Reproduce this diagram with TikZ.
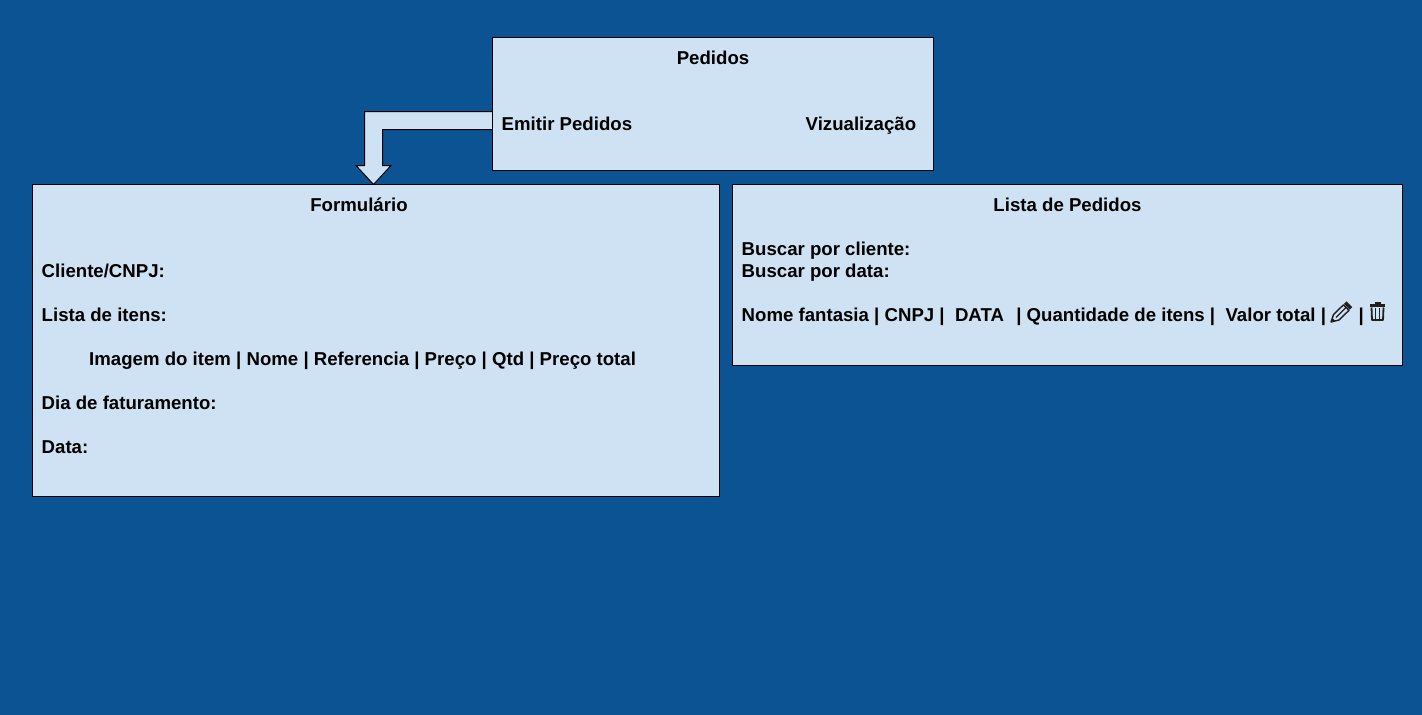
\documentclass[tikz,border=0pt]{standalone}
\usepackage{fontspec}
\usetikzlibrary{backgrounds}
\setmainfont{Liberation Sans}
\definecolor{bgblue}{HTML}{0C5394}
\definecolor{boxblue}{HTML}{CFE2F3}
\definecolor{inkdark}{HTML}{1F1F1F}
\tikzset{
  panel/.style={draw=black,fill=boxblue,line width=1pt,inner sep=0pt,outer sep=0pt,anchor=north west},
  lbl/.style={font=\fontsize{18.63}{18.63}\selectfont\bfseries,text=black,inner sep=0pt,anchor=base west},
  ttl/.style={font=\fontsize{18.63}{18.63}\selectfont\bfseries,text=black,inner sep=0pt,anchor=base},
  icon/.style={draw=inkdark,line width=1.5pt,line join=round}
}
\begin{document}
\begin{tikzpicture}[x=1pt,y=-1pt]
\useasboundingbox (0,0) rectangle (1422,715);
\node[panel,minimum width=441pt,minimum height=133pt] (pedidos) at (492.5,37.5) {};
\node[panel,minimum width=687pt,minimum height=312pt] (formulario) at (32.5,184.5) {};
\node[panel,minimum width=670pt,minimum height=181pt] (lista) at (732.5,184.5) {};
\coordinate (tip) at (373.5,184.5);
\begin{pgfonlayer}{background}
\fill[bgblue] (0,0) rectangle (1422,715);
% bent arrow
\draw[draw=black,fill=boxblue,line width=1pt,line join=miter]
  (pedidos.west |- 0,111.5) -- (364.5,111.5) -- (364.5,165.5) -- (356,165.5) -- (tip)
  -- (391,165.5) -- (382.5,165.5) -- (382.5,129.5) -- (pedidos.west |- 0,129.5);
\end{pgfonlayer}
% Pedidos
\node[ttl] (t1) at (713,64) {Pedidos};
\node[lbl] (t2) at (501.5,130) {Emitir Pedidos};
\node[lbl] (t3) at (805.5,130) {Vizualização};
% Formulario
\node[ttl] (t4) at (359,211) {Formulário};
\node[lbl] (t5) at (41.5,277) {Cliente/CNPJ:};
\node[lbl] (t6) at (41.5,321) {Lista de itens:};
\node[lbl] (t7) at (89,365) {Imagem do item | Nome | Referencia | Preço | Qtd | Preço total};
\node[lbl] (t8) at (41.5,409) {Dia de faturamento:};
\node[lbl] (t9) at (41.5,453) {Data:};
% Lista
\node[ttl] (t10) at (1067.5,211) {Lista de Pedidos};
\node[lbl] (t11) at (741.5,255) {Buscar por cliente:};
\node[lbl] (t12) at (741.5,277) {Buscar por data:};
\node[lbl] (t13) at (741.5,321) {Nome fantasia | CNPJ |\ \ DATA\ \ \kern2pt| Quantidade de itens |\ \ Valor total |};
\node[lbl] (t14) at (1358.5,321) {|};
% pencil icon
\draw[icon,line width=1.4pt] (1331,322) -- (1333.5,314.5) -- (1343.5,304.8) -- (1349,310.3) -- (1339,320) -- cycle;
\draw[icon,line width=1.2pt] (1336,317.5) -- (1346,307.5);
\fill[inkdark] (1331,322) -- (1332.3,318) -- (1335,320.7) -- cycle;
\draw[inkdark,line width=3.6pt] (1345.2,302.6) -- (1351,308.4);
% trash icon
\draw[icon,line width=1.8pt] (1371.5,307.5) -- (1372,320) -- (1383,320) -- (1383.5,307.5);
\draw[icon,line width=2.2pt] (1370,305.5) -- (1385,305.5);
\draw[icon,line width=1.3pt] (1374.5,303) -- (1380.5,303);
\draw[icon,line width=1.6pt] (1375.5,308) -- (1375.5,318.5) (1379.5,308) -- (1379.5,318.5);
\end{tikzpicture}
\end{document}
